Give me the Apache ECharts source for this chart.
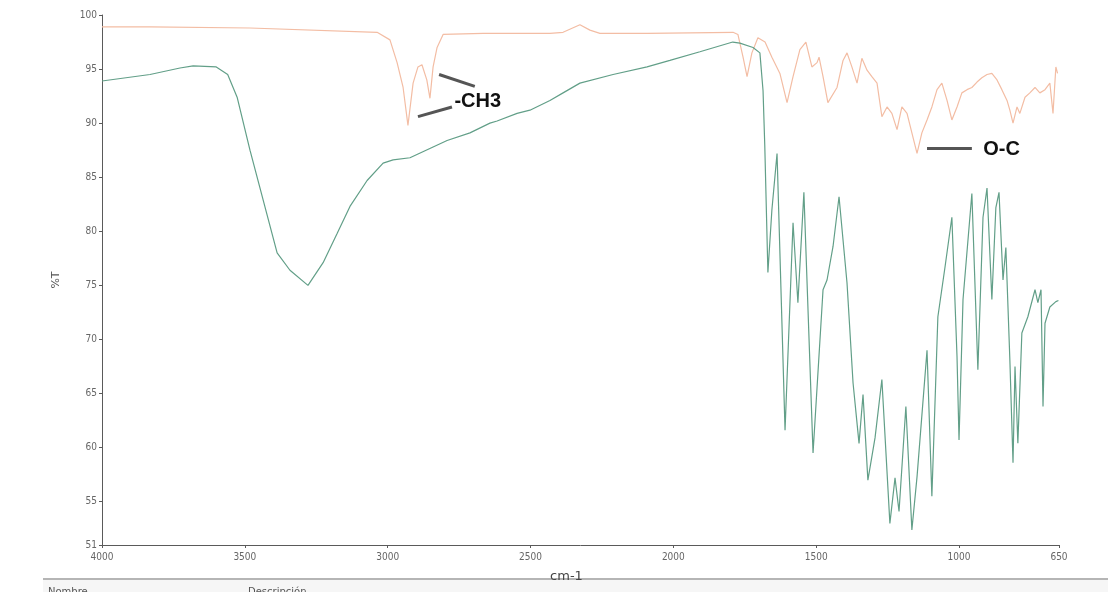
<!DOCTYPE html>
<html>
<head>
<meta charset="utf-8">
<script src="https://cdn.jsdelivr.net/npm/echarts@6/dist/echarts.min.js"></script>
<style>
html,body{margin:0;padding:0;background:#fff;}
#chart{width:1108px;height:592px;}
</style>
</head>
<body>
<div id="chart"></div>
<script>
// Upper (orange) spectrum
const orangeWavenumber = [4000,3832,3482,3037,2992,2967,2946,2929,2911,2894,2880,2863,2852,2841,2827,2806,2666,2432,2386,2327,2292,2257,2092,1791,1774,1756,1742,1725,1704,1679,1655,1627,1602,1581,1557,1536,1515,1497,1490,1476,1459,1427,1406,1392,1375,1357,1340,1322,1305,1287,1270,1252,1235,1217,1200,1182,1165,1147,1130,1112,1095,1077,1060,1042,1025,1007,990,972,955,937,920,902,885,867,850,832,822,811,797,787,769,752,734,717,699,682,671,661,655];
const orangeT = [98.9,98.9,98.8,98.4,97.7,95.6,93.3,89.8,93.7,95.2,95.4,94.0,92.3,95.2,97.0,98.2,98.3,98.3,98.4,99.1,98.6,98.3,98.3,98.4,98.2,96.1,94.3,96.5,97.9,97.5,96.1,94.6,91.9,94.3,96.8,97.5,95.2,95.6,96.1,94.3,91.9,93.3,95.8,96.5,95.2,93.7,96.0,94.9,94.3,93.7,90.6,91.5,90.9,89.4,91.5,90.9,89.1,87.2,89.1,90.3,91.5,93.1,93.7,92.1,90.3,91.5,92.8,93.1,93.3,93.8,94.2,94.5,94.6,94.0,93.1,92.1,91.2,90.0,91.5,90.9,92.4,92.8,93.3,92.8,93.1,93.7,90.9,95.2,94.6];

// Lower (green) spectrum
const greenWavenumber = [4000,3832,3727,3681,3600,3560,3527,3482,3436,3387,3342,3279,3226,3177,3132,3072,3016,2981,2922,2841,2792,2712,2642,2617,2547,2502,2432,2386,2327,2211,2092,2012,1907,1792,1767,1721,1697,1686,1680,1669,1655,1637,1609,1581,1564,1543,1511,1476,1462,1441,1420,1392,1371,1350,1336,1319,1294,1270,1242,1224,1210,1186,1165,1147,1112,1095,1074,1049,1025,1007,1000,986,955,934,916,902,885,871,860,846,836,822,811,804,794,780,759,734,724,713,706,699,682,661,652];
const greenT = [93.9,94.5,95.1,95.3,95.2,94.5,92.4,87.5,82.9,78.0,76.4,75.0,77.1,79.8,82.3,84.7,86.3,86.6,86.8,87.8,88.4,89.1,90.0,90.2,90.9,91.2,92.1,92.8,93.7,94.5,95.2,95.8,96.6,97.5,97.4,97.0,96.5,93.0,88.0,76.2,82.0,87.2,61.6,80.8,73.4,83.6,59.5,74.6,75.5,78.6,83.2,75.2,66.0,60.4,64.9,57.0,60.9,66.3,53.0,57.2,54.1,63.8,52.4,57.3,69.0,55.5,72.1,76.7,81.3,68.4,60.7,73.7,83.5,67.2,81.3,84.0,73.7,82.2,83.6,75.5,78.5,68.1,58.6,67.5,60.4,70.6,72.1,74.6,73.4,74.6,63.8,71.5,73.0,73.5,73.6];

const xTicks = [4000,3500,3000,2500,2000,1500,1000,650];
const yTicks = [51,55,60,65,70,75,80,85,90,95,100];

// Annotations (data coordinates)
const ch3Lines = [[[2820,94.5],[2695,93.4]],[[2894,90.6],[2775,91.5]]];
const ch3Label = [2768,92.0];
const ocLine = [[1112,87.7],[955,87.7]];
const ocLabel = [917,87.6];

function pairs(xs, ys){ return xs.map((x,i)=>[x, ys[i]]); }

const chart = echarts.init(document.getElementById('chart'), null, {renderer:'canvas'});
const axisColor = '#5a5a5a';
const labelColor = '#666';
const annLineStyle = {color:'#555', width:3, type:'solid'};

chart.setOption({
  animation:false,
  backgroundColor:'#fff',
  grid:{left:102, right:49, top:15, bottom:47, containLabel:false},
  xAxis:{
    type:'value', inverse:true, min:650, max:4000,
    name:'cm-1', nameLocation:'middle', nameGap:25,
    nameTextStyle:{color:'#444', fontSize:13, fontFamily:'DejaVu Sans', padding:[0,28,0,0]},
    axisLine:{show:true, lineStyle:{color:axisColor, width:1}},
    axisTick:{show:true, length:3, customValues:xTicks, lineStyle:{color:axisColor}},
    axisLabel:{color:labelColor, fontSize:10, margin:7, fontFamily:'DejaVu Sans Condensed', customValues:xTicks, formatter:v=>String(v)},
    splitLine:{show:false}
  },
  yAxis:{
    type:'value', min:51, max:100,
    name:'%T', nameLocation:'middle', nameGap:40, nameRotate:90,
    nameTextStyle:{color:'#555', fontSize:11, fontFamily:'DejaVu Sans'},
    axisLine:{show:true, lineStyle:{color:axisColor, width:1}},
    axisTick:{show:true, length:3, customValues:yTicks, lineStyle:{color:axisColor}},
    axisLabel:{color:labelColor, fontSize:10, margin:5, fontFamily:'DejaVu Sans Condensed', customValues:yTicks, formatter:v=>String(v)},
    splitLine:{show:false}
  },
  series:[
    {
      type:'line', name:'orange', data:pairs(orangeWavenumber, orangeT),
      showSymbol:false, symbol:'none', smooth:false,
      lineStyle:{color:'#f3bda4', width:1.2},
      markLine:{
        silent:true, symbol:['none','none'], label:{show:false},
        lineStyle:annLineStyle,
        data: ch3Lines.map(l=>[{coord:l[0]},{coord:l[1]}]).concat([[{coord:ocLine[0]},{coord:ocLine[1]}]])
      },
      markPoint:{
        silent:true, symbol:'circle', symbolSize:1, itemStyle:{color:'rgba(0,0,0,0)'},
        label:{show:true, position:'right', distance:0, color:'#111', fontSize:20, fontWeight:'bold', fontFamily:'Liberation Sans'},
        data:[
          {coord:ch3Label, value:'-CH3', label:{formatter:'-CH3'}},
          {coord:ocLabel, value:'O-C', label:{formatter:'O-C'}}
        ]
      }
    },
    {
      type:'line', name:'green', data:pairs(greenWavenumber, greenT),
      showSymbol:false, symbol:'none', smooth:false,
      lineStyle:{color:'#629f88', width:1.2}
    }
  ],
  graphic:[
    {type:'rect', left:43, top:580, shape:{width:1065, height:12}, style:{fill:'#f6f6f6'}, silent:true},
    {type:'line', shape:{x1:43, y1:579, x2:1108, y2:579}, style:{stroke:'#b5b5b5', lineWidth:2}, silent:true},
    {type:'text', left:48, top:587, style:{text:'Nombre', fill:'#555', font:'10px "DejaVu Sans"'}, silent:true},
    {type:'text', left:248, top:587, style:{text:'Descripción', fill:'#555', font:'10px "DejaVu Sans"'}, silent:true}
  ]
});
</script>
</body>
</html>
